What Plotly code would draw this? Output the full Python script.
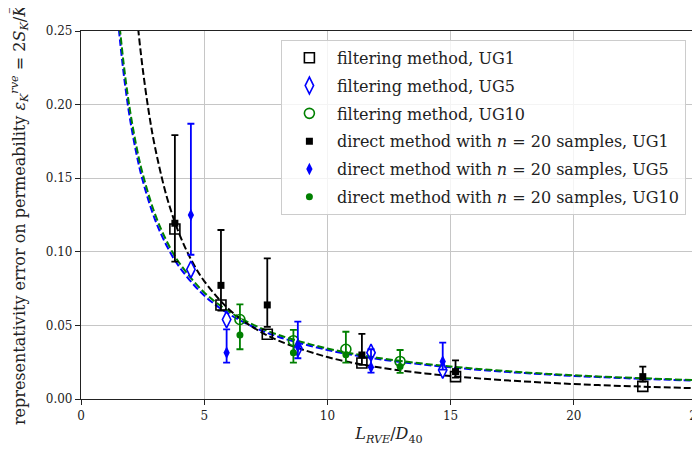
import plotly.graph_objects as go

# ---- data ----
# filtering method
filt_ug1_x = [3.81, 5.68, 7.56, 11.40, 15.20, 22.80]
filt_ug1_y = [0.1155, 0.0639, 0.0440, 0.0245, 0.0152, 0.0086]
filt_ug5_x = [4.46, 5.91, 8.80, 11.77, 14.68]
filt_ug5_y = [0.0880, 0.0540, 0.0344, 0.0315, 0.0197]
filt_ug10_x = [6.45, 8.62, 10.75, 12.95]
filt_ug10_y = [0.0540, 0.0396, 0.0338, 0.0255]

# direct method with n = 20 samples (value, upper bar end, lower bar end)
dir_ug1_x = [3.81, 5.68, 7.56, 11.40, 15.20, 22.80]
dir_ug1_y = [0.1194, 0.0772, 0.0639, 0.0299, 0.0186, 0.0152]
dir_ug1_hi = [0.1793, 0.1148, 0.0956, 0.0442, 0.0263, 0.0220]
dir_ug1_lo = [0.0933, 0.0600, 0.0490, 0.0232, 0.0145, 0.0118]
dir_ug5_x = [4.46, 5.91, 8.80, 11.77, 14.68]
dir_ug5_y = [0.1250, 0.0315, 0.0355, 0.0215, 0.0255]
dir_ug5_hi = [0.1870, 0.0473, 0.0525, 0.0338, 0.0383]
dir_ug5_lo = [0.0980, 0.0247, 0.0277, 0.0179, 0.0200]
dir_ug10_x = [6.45, 8.62, 10.75, 12.95]
dir_ug10_y = [0.0435, 0.0315, 0.0300, 0.0220]
dir_ug10_hi = [0.0643, 0.0469, 0.0457, 0.0333]
dir_ug10_lo = [0.0338, 0.0247, 0.0247, 0.0177]

# dashed fitted curves
fit_ug1_x = [2.20, 2.33, 2.50, 2.75, 3.0, 3.5, 4.0, 4.5, 5.0, 6.0, 7.0, 8.0, 10.0, 12.0, 15.0, 18.0, 21.0, 25.0]
fit_ug1_y = [0.272, 0.250, 0.2249, 0.1951, 0.1714, 0.1362, 0.1117, 0.0937, 0.0801, 0.0610, 0.0485, 0.0398,
             0.0285, 0.0217, 0.0156, 0.0119, 0.00944, 0.00728]
fit_ug5_x = [1.5, 1.6, 1.8, 2.0, 2.25, 2.5, 3.0, 3.5, 4.0, 5.0, 6.0, 7.0, 8.0, 10.0, 12.0, 15.0, 18.0, 21.0, 25.0]
fit_ug5_y = [0.2581, 0.2408, 0.2120, 0.1892, 0.1666, 0.1487, 0.1221, 0.1034, 0.0895, 0.0703, 0.0578, 0.0489,
             0.0423, 0.0333, 0.0273, 0.0215, 0.0176, 0.0149, 0.0124]
fit_ug10_x = [1.5, 1.6, 1.8, 2.0, 2.25, 2.5, 3.0, 3.5, 4.0, 5.0, 6.0, 7.0, 8.0, 10.0, 12.0, 15.0, 18.0, 21.0, 25.0]
fit_ug10_y = [0.2658, 0.2480, 0.2184, 0.1949, 0.1716, 0.1532, 0.1258, 0.1065, 0.0922, 0.0724, 0.0595, 0.0504,
              0.0436, 0.0343, 0.0281, 0.0221, 0.0181, 0.0153, 0.0128]

x_ticks = [0, 5, 10, 15, 20, 25]
y_ticks = [0.00, 0.05, 0.10, 0.15, 0.20, 0.25]

BLACK, BLUE, GREEN = "#000000", "#0000ff", "#008000"
FONT = "DejaVu Serif"

fig = go.Figure()

# curves
for xs, ys, c in [(fit_ug5_x, fit_ug5_y, BLUE), (fit_ug10_x, fit_ug10_y, GREEN), (fit_ug1_x, fit_ug1_y, BLACK)]:
    fig.add_trace(go.Scatter(x=xs, y=ys, mode="lines", line=dict(color=c, width=2, dash="7px,3px", shape="spline"),
                             showlegend=False, hoverinfo="skip"))

def err(y, hi, lo):
    return dict(type="data", symmetric=False,
                array=[h - v for h, v in zip(hi, y)],
                arrayminus=[v - l for l, v in zip(lo, y)],
                thickness=1.8, width=3.5)

fig.add_trace(go.Scatter(x=filt_ug1_x, y=filt_ug1_y, mode="markers", name="filtering method, UG1",
                         legendgroup="a",
                         marker=dict(symbol="square-open", size=10, color=BLACK, line=dict(width=1.6))))
fig.add_trace(go.Scatter(x=filt_ug5_x, y=filt_ug5_y, mode="markers", name="filtering method, UG5",
                         legendgroup="b",
                         marker=dict(symbol="diamond-tall-open", size=12, color=BLUE, line=dict(width=1.6))))
fig.add_trace(go.Scatter(x=filt_ug10_x, y=filt_ug10_y, mode="markers", name="filtering method, UG10",
                         legendgroup="c",
                         marker=dict(symbol="circle-open", size=10, color=GREEN, line=dict(width=1.6))))

fig.add_trace(go.Scatter(x=dir_ug1_x, y=dir_ug1_y, mode="markers",
                         name="direct method with <i>n</i> = 20 samples, UG1", legendgroup="d",
                         marker=dict(symbol="square", size=7, color=BLACK),
                         error_y=dict(err(dir_ug1_y, dir_ug1_hi, dir_ug1_lo), color=BLACK)))
fig.add_trace(go.Scatter(x=dir_ug5_x, y=dir_ug5_y, mode="markers",
                         name="direct method with <i>n</i> = 20 samples, UG5", legendgroup="e",
                         marker=dict(symbol="diamond-tall", size=9, color=BLUE),
                         error_y=dict(err(dir_ug5_y, dir_ug5_hi, dir_ug5_lo), color=BLUE)))
fig.add_trace(go.Scatter(x=dir_ug10_x, y=dir_ug10_y, mode="markers",
                         name="direct method with <i>n</i> = 20 samples, UG10", legendgroup="f",
                         marker=dict(symbol="circle", size=7, color=GREEN),
                         error_y=dict(err(dir_ug10_y, dir_ug10_hi, dir_ug10_lo), color=GREEN)))

axis_common = dict(showgrid=True, gridcolor="#c6c6c6", gridwidth=1, zeroline=False, automargin=False,
                   showline=True, linecolor="#222222", linewidth=1.2, mirror=True,
                   ticks="outside", ticklen=5, tickwidth=1, tickcolor="#222222",
                   tickfont=dict(family=FONT, size=12, color="#222222"))

# the page body adds an 8px offset; the figure is sized to fill the rest of the 700x457 window
fig.update_layout(
    width=692, height=449,
    margin=dict(l=73, r=3, t=23, b=58, autoexpand=False),
    paper_bgcolor="white", plot_bgcolor="white",
    font=dict(family=FONT, color="#222222"),
    xaxis=dict(axis_common, range=[0, 25], tickvals=x_ticks, ticktext=[str(v) for v in x_ticks],
               ticklabeloverflow="allow",
               title=dict(text="<i>L</i><sub><i>RVE</i></sub>/<i>D</i><sub>40</sub>",
                          font=dict(family=FONT, size=16), standoff=6)),
    yaxis=dict(axis_common, range=[0, 0.25], tickvals=y_ticks, ticktext=[f"{v:.2f}" for v in y_ticks],
               title=dict(text="representativity error on permeability <i>ε</i><sub><i>K</i></sub><sup><i>rve</i></sup> = 2<i>S</i><sub><i>K</i></sub>/<i>K̅</i>",
                          font=dict(family=FONT, size=16), standoff=20)),
    legend=dict(x=0.3245, y=0.976, xanchor="left", yanchor="top",
                bgcolor="rgba(255,255,255,0.8)", bordercolor="#cccccc", borderwidth=1,
                font=dict(family=FONT, size=16, color="#222222"),
                tracegroupgap=4, itemwidth=45),
    showlegend=True,
)

fig.write_html("out.html")
